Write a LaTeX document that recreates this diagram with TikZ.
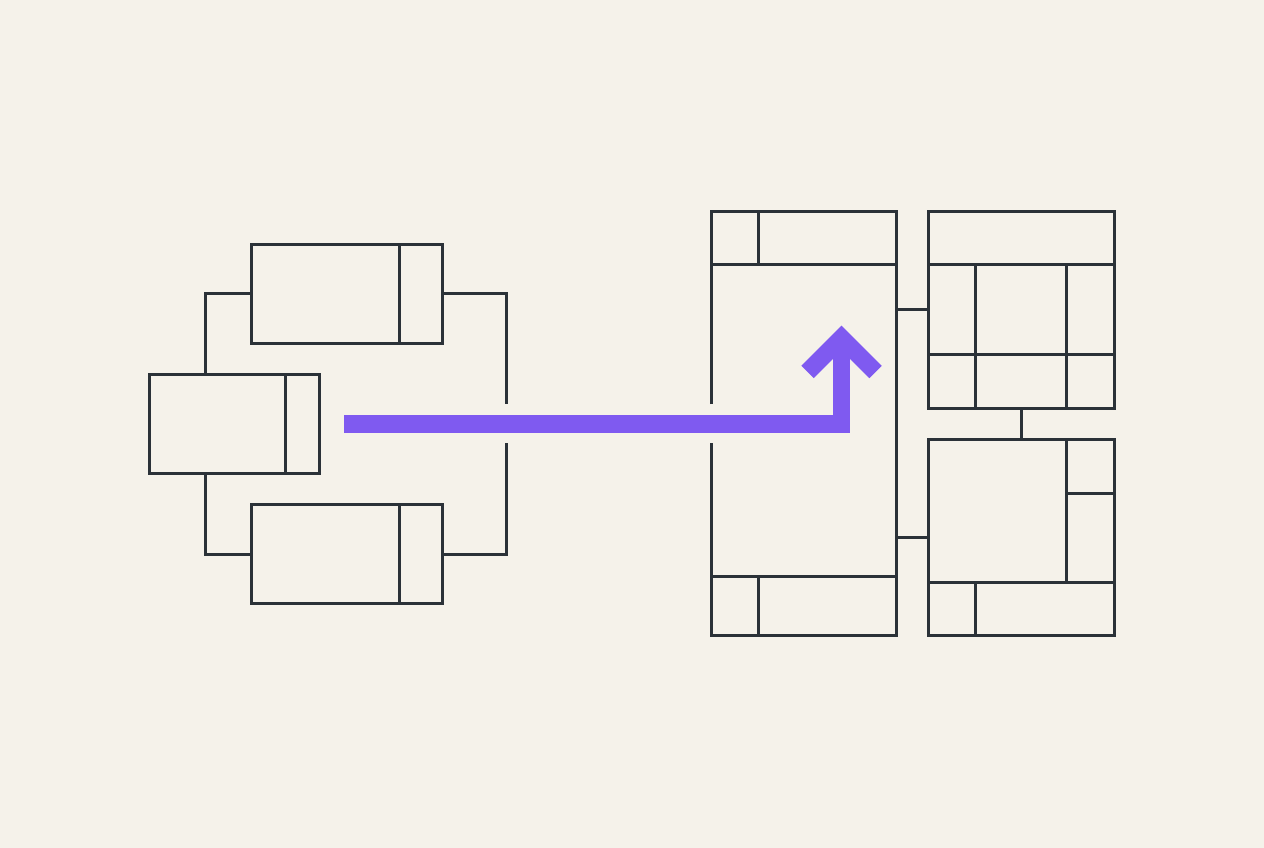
\documentclass[tikz,border=0pt]{standalone}
\definecolor{paper}{HTML}{F5F2EA}
\definecolor{ink}{HTML}{2B3238}
\definecolor{accent}{HTML}{7F5AF0}
\tikzset{
  frame/.style={draw=ink,line width=0.06cm,inner sep=0pt,outer sep=0pt},
  wire/.style={ink,line width=0.06cm},
  flow/.style={accent,line width=0.35cm,line join=miter}
}
\begin{document}
\begin{tikzpicture}[x=0.02cm,y=-0.02cm]

\fill[paper] (0,0) rectangle (1264,848);
\useasboundingbox (0,0) rectangle (1264,848);

% left: three linked boxes
\node[frame,minimum width=3.81cm,minimum height=1.98cm] (T) at (347,293.8) {};
\node[frame,minimum width=3.40cm,minimum height=1.98cm] (M) at (234.3,423.8) {};
\node[frame,minimum width=3.81cm,minimum height=1.98cm] (B) at (347,554) {};
\draw[wire] (T.north -| 399.3,0)--(T.south -| 399.3,0);
\draw[wire] (M.north -| 285.7,0)--(M.south -| 285.7,0);
\draw[wire] (B.north -| 399.3,0)--(B.south -| 399.3,0);
\coordinate (gapT) at (506.7,404);
\coordinate (gapB) at (506.7,443.3);
\draw[wire] (M.north -| 205.3,0) |- (T.west);
\draw[wire] (M.south -| 205.3,0) |- (B.west);
\draw[wire] (T.east) -| (gapT);
\draw[wire] (B.east) -| (gapB);

% right: panels
\node[inner sep=0pt,outer sep=0pt,minimum width=3.72cm,minimum height=8.5cm] (P) at (804,423.5) {};
\node[frame,minimum width=3.72cm,minimum height=3.946cm] (Q) at (1021.3,309.7) {};
\node[frame,minimum width=3.72cm,minimum height=3.94cm] (R) at (1021.3,537.5) {};
\draw[wire] (P.west |- gapT)--(P.north west)--(P.north east)--(P.south east)--(P.south west)--(P.west |- gapB);
\draw[wire] (P.west |- 0,264.3)--(P.east |- 0,264.3);
\draw[wire] (P.north -| 758.7,0)--(758.7,264.3);
\draw[wire] (P.west |- 0,576.7)--(P.east |- 0,576.7);
\draw[wire] (P.south -| 758.7,0)--(758.7,576.7);

\draw[wire] (Q.west |- 0,264.3)--(Q.east |- 0,264.3);
\draw[wire] (Q.west |- 0,354.3)--(Q.east |- 0,354.3);
\draw[wire] (975.3,264.3)--(Q.south -| 975.3,0);
\draw[wire] (1066.7,264.3)--(Q.south -| 1066.7,0);

\draw[wire] (R.north -| 1066.7,0)--(1066.7,582.7);
\draw[wire] (R.west |- 0,582.7)--(R.east |- 0,582.7);
\draw[wire] (1066.7,493.3)--(R.east |- 0,493.3);
\draw[wire] (975.3,582.7)--(R.south -| 975.3,0);

\draw[wire] (P.east |- Q.west)--(Q.west);
\draw[wire] (P.east |- R.west)--(R.west);
\draw[wire] (Q.south)--(R.north);

% purple arrow
\coordinate (src) at (344,424);
\coordinate (tip) at (841.6,338);
\draw[flow] (src) -| ([yshift=-0.14cm]tip);
\draw[flow] ([shift={(-34,34)}]tip)--(tip)--([shift={(34,34)}]tip);

\end{tikzpicture}
\end{document}
